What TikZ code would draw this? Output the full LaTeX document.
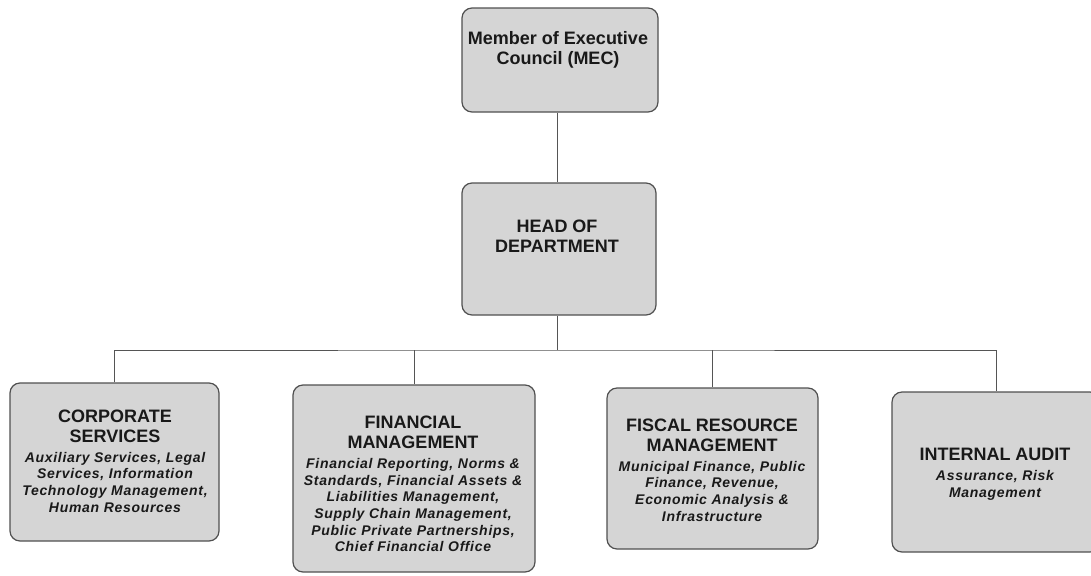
\documentclass[tikz,border=0pt]{standalone}
\usepackage{fontspec}
\setmainfont{Liberation Sans}
\newfontfamily\subfam{Liberation Sans}[LetterSpace=5]
\usetikzlibrary{fit}
\newcommand\ttlfont{\fontsize{13.5}{15}\selectfont\bfseries}
\newcommand\subtxt{\subfam\fontsize{10.5}{12.5}\selectfont\bfseries\itshape}
\newcommand\orgtext[2]{\begin{minipage}{230pt}\centering\ttlfont #1\par\vspace{2.5pt}\subtxt #2\par\end{minipage}}
\definecolor{boxfill}{RGB}{213,213,213}
\definecolor{boxline}{RGB}{80,80,80}
\definecolor{conn}{RGB}{85,85,85}
\definecolor{ink}{RGB}{25,25,25}
\tikzset{
  orgbox/.style={draw=boxline, fill=boxfill, line width=0.9pt, rounded corners=7.5pt, inner sep=0pt},
  txt/.style={align=center, inner sep=0pt, text=ink, font=\ttlfont},
  wire/.style={draw=conn, line width=0.75pt}
}
\begin{document}
\begin{tikzpicture}[x=0.75pt, y=-0.75pt]
\useasboundingbox (0,0) rectangle (1091,575);
% boxes
\node[orgbox, fit={(462,8) (658,112)}] (mec) {};
\node[orgbox, fit={(462,183) (656,315)}] (hod) {};
\node[orgbox, fit={(10,383) (219,541)}] (corp) {};
\node[orgbox, fit={(293,385) (535,572)}] (fin) {};
\node[orgbox, fit={(607,388) (818,549)}] (fis) {};
\node[orgbox, fit={(892,392) (1100,552)}] (ia) {};
% texts
\node[txt] (mect) at (558,50) {Member of Executive\\Council (MEC)};
\node[txt] (hodt) at (557,236) {HEAD OF\\DEPARTMENT};
\node[txt] (corpt) at (115,461) {\orgtext{CORPORATE\\SERVICES}{Auxiliary Services, Legal\\Services, Information\\Technology Management,\\Human Resources}};
\node[txt] (fint) at (413,484) {\orgtext{FINANCIAL\\MANAGEMENT}{Financial Reporting, Norms \&\\Standards, Financial Assets \&\\Liabilities Management,\\Supply Chain Management,\\Public Private Partnerships,\\Chief Financial Office}};
\node[txt] (fist) at (712,470) {\orgtext{FISCAL RESOURCE\\MANAGEMENT}{Municipal Finance, Public\\Finance, Revenue,\\Economic Analysis \&\\Infrastructure}};
\node[txt] (iat) at (995,474) {\orgtext{INTERNAL AUDIT}{Assurance, Risk\\Management}};
% connectors
\coordinate (bus) at (557,350);
\draw[wire] (mec.south -| bus) -- (hod.north -| bus);
\draw[wire] (hod.south -| bus) -- (bus);
\draw[wire] (corp.north) |- (bus) -| (ia.north);
\draw[wire] (fin.north) -- (fin.north |- bus);
\draw[wire] (fis.north) -- (fis.north |- bus);
\end{tikzpicture}
\end{document}
